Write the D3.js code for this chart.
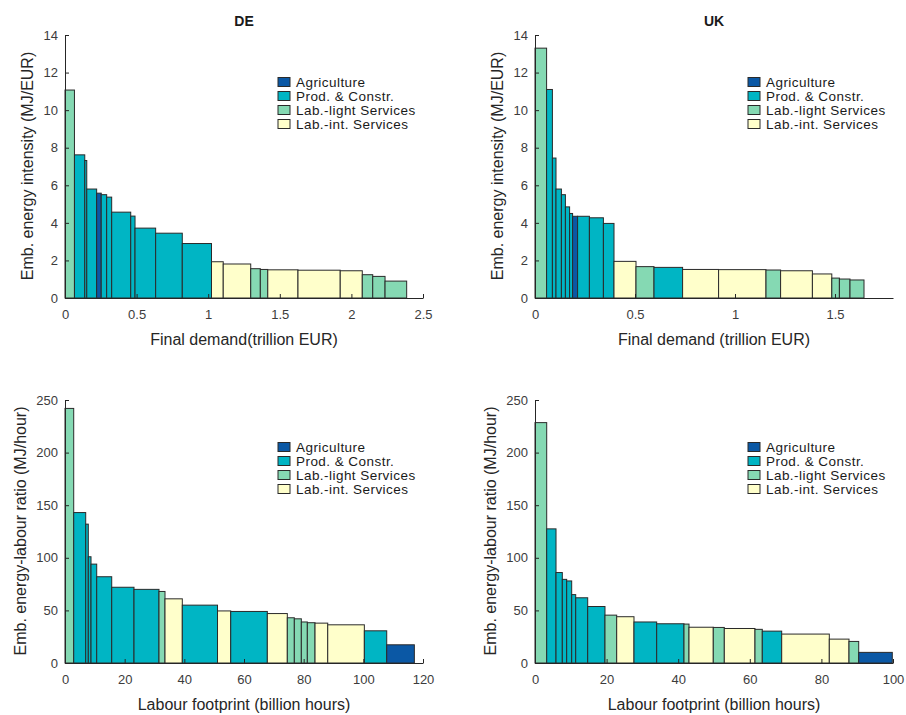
<!DOCTYPE html>
<html>
<head>
<meta charset="utf-8">
<script src="https://cdn.jsdelivr.net/npm/d3@7"></script>
<style>
body { margin: 0; background: #fff; }
text { font-family: "Liberation Sans", Arial, sans-serif; }
</style>
</head>
<body>
<svg width="906" height="715"></svg>
<script>
// sector groups (index used in the *Cat arrays below)
var categories = ["Agriculture", "Prod. & Constr.", "Lab.-light Services", "Lab.-int. Services"];

// DE - final demand (trillion EUR) vs embodied energy intensity (MJ/EUR)
var deDemand    = [0.066, 0.072, 0.014, 0.069, 0.032, 0.038, 0.035, 0.133, 0.030, 0.144, 0.186,
                   0.204, 0.082, 0.192, 0.067, 0.052, 0.211, 0.295, 0.154, 0.073, 0.086, 0.151];
var deIntensity = [11.07, 7.62, 7.32, 5.8, 5.58, 5.5, 5.37, 4.57, 4.36, 3.72, 3.45,
                   2.9, 1.93, 1.81, 1.56, 1.52, 1.5, 1.48, 1.45, 1.24, 1.15, 0.9];
var deDemandCat = [2, 1, 1, 1, 0, 1, 1, 1, 1, 1, 1, 1, 3, 3, 2, 2, 3, 3, 3, 2, 2, 2];

// UK - final demand vs embodied energy intensity
var ukDemand    = [0.058, 0.029, 0.018, 0.027, 0.020, 0.021, 0.015, 0.025, 0.059, 0.070, 0.053,
                   0.110, 0.090, 0.143, 0.180, 0.237, 0.073, 0.159, 0.097, 0.038, 0.053, 0.070];
var ukIntensity = [13.3, 11.1, 7.45, 5.8, 5.5, 4.85, 4.5, 4.35, 4.35, 4.27, 3.97,
                   1.95, 1.67, 1.63, 1.52, 1.51, 1.49, 1.45, 1.28, 1.06, 1.01, 0.96];
var ukDemandCat = [2, 1, 1, 1, 1, 1, 1, 0, 1, 1, 1, 3, 2, 1, 3, 3, 2, 3, 3, 2, 2, 2];

// DE - labour footprint (billion hours) vs energy-labour ratio (MJ/hour)
var deLabour     = [2.92, 4.02, 0.87, 0.91, 1.91, 5.03, 7.47, 8.38, 2.01, 5.80, 11.80,
                    4.43, 12.27, 6.70, 2.35, 2.35, 2.01, 2.58, 4.26, 12.27, 7.50, 9.26];
var deRatio      = [242, 143, 132, 101, 94, 82, 72, 70, 68, 61, 55,
                    49.5, 49, 47, 43, 42, 39, 38.3, 37.9, 36.3, 30.6, 17.3];
var deLabourCat  = [2, 1, 1, 1, 1, 1, 1, 1, 2, 3, 1, 3, 1, 3, 2, 2, 2, 2, 3, 3, 1, 0];

// UK - labour footprint vs energy-labour ratio
var ukLabour     = [3.27, 2.60, 1.76, 1.22, 1.40, 1.12, 3.35, 4.83, 3.27, 4.83, 6.34,
                    7.63, 1.40, 6.78, 3.08, 8.57, 2.04, 5.42, 13.30, 5.50, 2.71, 9.38];
var ukRatio      = [228.5, 127.5, 86, 79.5, 78, 65, 62, 53.7, 45.5, 44, 39,
                    37.3, 37, 34, 33.8, 32.8, 32, 30.3, 27.5, 22.7, 20.5, 10.1];
var ukLabourCat  = [2, 1, 1, 1, 1, 1, 1, 1, 2, 3, 1, 1, 2, 3, 2, 3, 2, 1, 3, 3, 2, 0];

// tick values
var demandTicksDE = [0, 0.5, 1, 1.5, 2, 2.5];
var demandTicksUK = [0, 0.5, 1, 1.5];
var intensityTicks = [0, 2, 4, 6, 8, 10, 12, 14];
var labourTicksDE = [0, 20, 40, 60, 80, 100, 120];
var labourTicksUK = [0, 20, 40, 60, 80, 100];
var ratioTicks = [0, 50, 100, 150, 200, 250];

var colors = ["#0b58a5", "#00b5c4", "#85d9b3", "#ffffcb"];
var axisColor = "#262626";

var svg = d3.select("svg");

function panel(o) {
    var x = d3.scaleLinear().domain([0, o.xMax]).range([o.left, o.left + 358]);
    var y = d3.scaleLinear().domain([0, o.yMax]).range([o.top + 263, o.top]);

    // cumulative left edges of the bars
    var edges = [0];
    o.widths.forEach(function(w, i) { edges.push(edges[i] + w); });

    var g = svg.append("g");

    g.selectAll("rect")
        .data(o.widths)
        .enter()
        .append("rect")
            .attr("x", function(d, i) { return x(edges[i]); })
            .attr("y", function(d, i) { return y(o.heights[i]); })
            .attr("width", function(d, i) { return x(edges[i] + d) - x(edges[i]); })
            .attr("height", function(d, i) { return y(0) - y(o.heights[i]); })
            .attr("fill", function(d, i) { return colors[o.cats[i]]; })
            .attr("stroke", "#2a2a2a")
            .attr("stroke-width", 1);

    var xAxis = d3.axisBottom(x)
        .tickValues(o.xTicks)
        .tickFormat(function(d) { return d; })
        .tickSizeInner(-4)
        .tickSizeOuter(0)
        .tickPadding(12);
    var yAxis = d3.axisLeft(y)
        .tickValues(o.yTicks)
        .tickFormat(function(d) { return d; })
        .tickSizeInner(-4)
        .tickSizeOuter(0)
        .tickPadding(7);

    var gx = g.append("g")
        .attr("transform", "translate(0," + y(0) + ")")
        .call(xAxis);
    var gy = g.append("g")
        .attr("transform", "translate(" + o.left + ",0)")
        .call(yAxis);

    [gx, gy].forEach(function(a) {
        a.select(".domain").attr("stroke", axisColor);
        a.selectAll(".tick line").attr("stroke", axisColor);
        a.selectAll(".tick text")
            .attr("fill", "#3c3c3c")
            .style("font-size", "13px")
            .style("font-family", "'Liberation Sans', Arial, sans-serif");
    });

    // title
    g.append("text")
        .attr("x", o.left + 179)
        .attr("y", o.top - 9)
        .attr("text-anchor", "middle")
        .style("font-size", "14px")
        .style("font-weight", "bold")
        .attr("fill", "#1a1a1a")
        .text(o.title);

    // axis labels
    g.append("text")
        .attr("x", o.left + 179)
        .attr("y", y(0) + 47)
        .attr("text-anchor", "middle")
        .style("font-size", "16px")
        .attr("fill", "#262626")
        .text(o.xLabel);

    g.append("text")
        .attr("transform", "translate(" + o.yLabelX + "," + (o.top + 131) + ") rotate(-90)")
        .attr("text-anchor", "middle")
        .style("font-size", "16px")
        .attr("fill", "#262626")
        .text(o.yLabel);

    // legend
    var lg = g.append("g")
        .attr("transform", "translate(" + (o.left + 213) + "," + (o.top + 47) + ")");
    var item = lg.selectAll("g")
        .data(categories)
        .enter()
        .append("g")
            .attr("transform", function(d, i) { return "translate(0," + (i * 14) + ")"; });
    item.append("rect")
        .attr("x", 0)
        .attr("y", -4.5)
        .attr("width", 12)
        .attr("height", 9)
        .attr("fill", function(d, i) { return colors[i]; })
        .attr("stroke", "#2a2a2a")
        .attr("stroke-width", 1);
    item.append("text")
        .attr("x", 18)
        .attr("dy", "0.36em")
        .style("font-size", "13.5px")
        .style("letter-spacing", "0.45px")
        .attr("fill", "#1a1a1a")
        .text(function(d) { return d; });
}

panel({ left: 65, top: 35, xMax: 2.5, yMax: 14, xTicks: demandTicksDE, yTicks: intensityTicks,
        widths: deDemand, heights: deIntensity, cats: deDemandCat, title: "DE",
        xLabel: "Final demand(trillion EUR)", yLabel: "Emb. energy intensity (MJ/EUR)", yLabelX: 33 });
panel({ left: 535, top: 35, xMax: 1.79, yMax: 14, xTicks: demandTicksUK, yTicks: intensityTicks,
        widths: ukDemand, heights: ukIntensity, cats: ukDemandCat, title: "UK",
        xLabel: "Final demand (trillion EUR)", yLabel: "Emb. energy intensity (MJ/EUR)", yLabelX: 503 });
panel({ left: 65, top: 400, xMax: 120, yMax: 250, xTicks: labourTicksDE, yTicks: ratioTicks,
        widths: deLabour, heights: deRatio, cats: deLabourCat, title: "",
        xLabel: "Labour footprint (billion hours)", yLabel: "Emb. energy-labour ratio (MJ/hour)", yLabelX: 26 });
panel({ left: 535, top: 400, xMax: 100, yMax: 250, xTicks: labourTicksUK, yTicks: ratioTicks,
        widths: ukLabour, heights: ukRatio, cats: ukLabourCat, title: "",
        xLabel: "Labour footprint (billion hours)", yLabel: "Emb. energy-labour ratio (MJ/hour)", yLabelX: 496 });
</script>
</body>
</html>
